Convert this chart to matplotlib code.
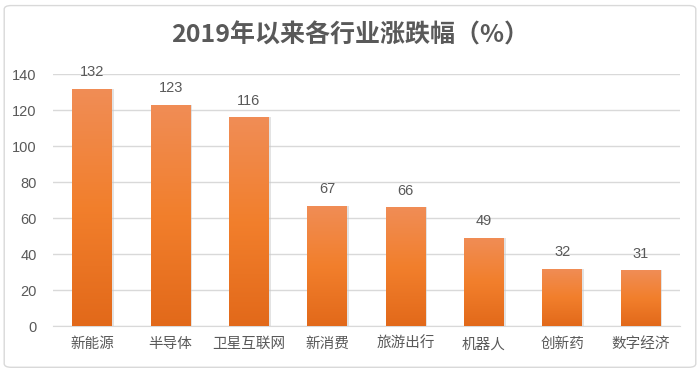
import numpy as np
import matplotlib.pyplot as plt
from matplotlib.colors import LinearSegmentedColormap
from matplotlib.patches import FancyBboxPatch

plt.rcParams['font.family'] = ['Noto Sans CJK SC', 'DejaVu Sans']

categories = ["新能源", "半导体", "卫星互联网", "新消费", "旅游出行", "机器人", "创新药", "数字经济"]
values = [132, 123, 116, 67, 66, 49, 32, 31]
yticks = [0, 20, 40, 60, 80, 100, 120, 140]

text_color = "#595959"
grad = LinearSegmentedColormap.from_list("bar", ["#E2691A", "#F27F2C", "#F08D56"])

fig = plt.figure(figsize=(7, 3.71), dpi=100)
fig.patches.append(FancyBboxPatch((0.006, 0.01), 0.988, 0.975, boxstyle="round,pad=0,rounding_size=0.01",
                                  transform=fig.transFigure, facecolor="white",
                                  edgecolor="#D9D9D9", linewidth=1.0, zorder=-1))
ax = fig.add_axes([0.076, 0.121, 0.895, 0.679])
ax.set_facecolor("none")

x = np.arange(len(categories))
width = 0.51
bars = ax.bar(x, values, width=width, color="none", zorder=3)
gradient = np.linspace(0, 1, 256).reshape(-1, 1)
for b in bars:
    bx, by = b.get_x(), b.get_y()
    bw, bh = b.get_width(), b.get_height()
    # soft shadow
    ax.bar(bx + bw / 2 + 0.012, bh, width=bw + 0.02, color="#C8C8C8", alpha=0.5, zorder=2)
    im = ax.imshow(gradient, cmap=grad, aspect="auto", origin="lower",
                   extent=[bx, bx + bw, by, by + bh], zorder=3)
    im.set_clip_path(b)

for xi, v in zip(x, values):
    ax.annotate(str(v), (xi, v), xytext=(0, 7), textcoords="offset points",
                ha="center", va="bottom", fontsize=10.5, color=text_color,
                family=["Liberation Sans", "DejaVu Sans"])

ax.set_xlim(-0.5, len(categories) - 0.5)
ax.set_ylim(0, 140)
ax.set_yticks(yticks)
ax.set_yticklabels([str(t) for t in yticks], family=["Liberation Sans", "DejaVu Sans"])
ax.set_xticks(x)
ax.set_xticklabels(categories)
ax.tick_params(axis="both", length=0, labelsize=10.5, colors=text_color)
ax.tick_params(axis="x", pad=8)
ax.tick_params(axis="y", pad=12)
ax.grid(axis="y", color="#D9D9D9", linewidth=1.0, zorder=0)
for s in ["top", "right", "left"]:
    ax.spines[s].set_visible(False)
ax.spines["bottom"].set_color("#D9D9D9")
ax.spines["bottom"].set_zorder(1)

fig.text(0.5, 0.905, "2019年以来各行业涨跌幅（%）", ha="center", va="center",
         fontsize=18, color=text_color, fontweight="bold")

fig.savefig("out.png", dpi=100)
